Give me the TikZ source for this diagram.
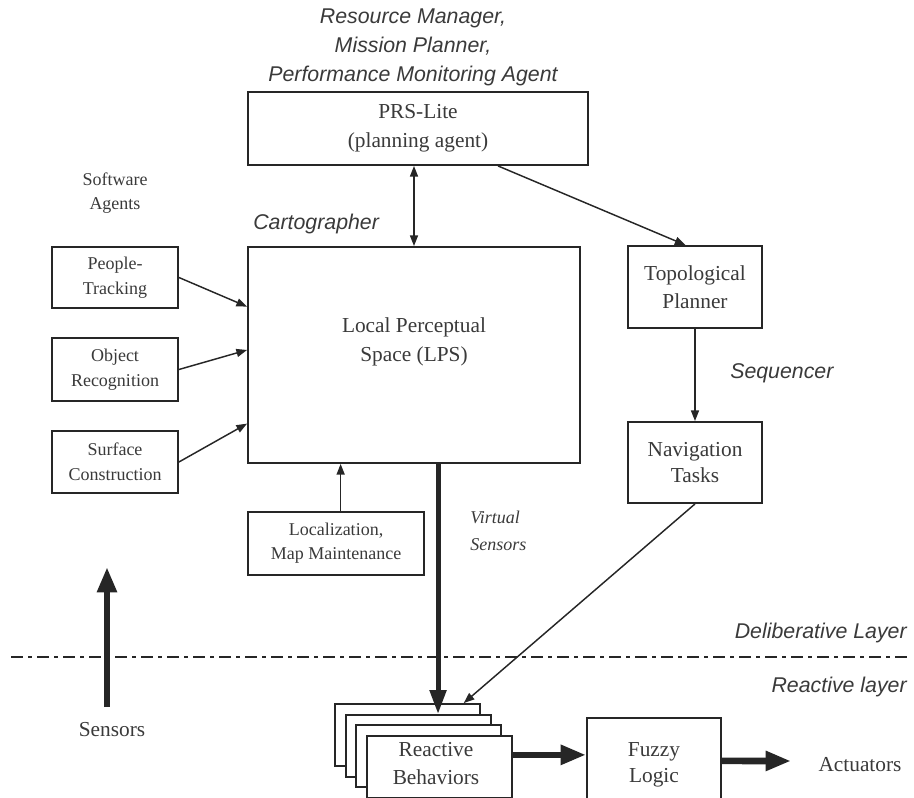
\documentclass[tikz,border=0pt]{standalone}
\usepackage{fontspec}
\setmainfont{Liberation Serif}
\setsansfont{Liberation Sans}
\usetikzlibrary{arrows.meta,calc}
\definecolor{ink}{HTML}{262626}
\definecolor{txt}{HTML}{3A3A3A}
\begin{document}
\begin{tikzpicture}[x=0.75pt,y=-0.75pt,
  every node/.style={text=txt},
  bigbox/.style={draw=ink,line width=1.4pt,fill=white,inner sep=0pt,align=center,font=\fontsize{16}{22}\selectfont},
  smallbox/.style={draw=ink,line width=1.4pt,fill=white,inner sep=0pt,align=center,font=\fontsize{13.5}{18.75}\selectfont},
  lbl/.style={font=\fontsize{16}{21.75}\selectfont\sffamily\itshape,align=center,inner sep=0pt},
  plain/.style={font=\fontsize{16}{22}\selectfont,align=center,inner sep=0pt},
  thin/.style={draw=ink,line width=1.1pt,-{Triangle[length=8pt,width=6pt]}},
  thick/.style={draw=ink,line width=5pt,-{Triangle[length=19pt,width=14pt]}}
]
\useasboundingbox (0,0) rectangle (914,798);

% labels
\node[lbl] (roles) at (413,47.5) {Resource Manager,\\Mission Planner,\\Performance Monitoring Agent};
\node[plain,font=\fontsize{13.5}{18}\selectfont] (swag) at (115,193) {Software\\Agents};
\node[lbl,anchor=west] (carto) at (253,224) {Cartographer};
\node[lbl,anchor=west] (seq) at (730,373) {Sequencer};
\node[align=left,anchor=west,inner sep=0pt,font=\fontsize{13.5}{20.5}\selectfont\itshape] (vs) at (470,531) {Virtual\\Sensors};
\node[lbl,anchor=east] (delib) at (907,633) {Deliberative Layer};
\node[lbl,anchor=east] (react) at (907,687) {Reactive layer};
\node[plain] (sens) at (112,730) {Sensors};
\node[plain] (act) at (860,765) {Actuators};

% boxes
\node[bigbox,minimum width=255pt,minimum height=54.75pt] (prs) at (418,128.5) {PRS-Lite\\(planning agent)};
\node[bigbox,minimum width=249pt,minimum height=162pt] (lps) at (414,355) {};
\node[plain] (lpstext) at (414,342) {Local Perceptual\\Space (LPS)};
\node[smallbox,minimum width=94.5pt,minimum height=45.75pt] (pt) at (115,277.5) {People-\\Tracking};
\node[smallbox,minimum width=94.5pt,minimum height=47.25pt] (ori) at (115,369.5) {Object\\Recognition};
\node[smallbox,minimum width=94.5pt,minimum height=46.5pt] (sc) at (115,462) {Surface\\Construction};
\node[smallbox,minimum width=132pt,minimum height=47.25pt,font=\fontsize{13.5}{18}\selectfont] (loc) at (336,543.5) {Localization,\\Map Maintenance};
\node[bigbox,minimum width=100.5pt,minimum height=61.5pt,font=\fontsize{16}{21}\selectfont] (topo) at (695,287) {Topological\\Planner};
\node[bigbox,minimum width=100.5pt,minimum height=60.75pt,font=\fontsize{16}{19.5}\selectfont] (nav) at (695,462.5) {Navigation\\Tasks};
\node[bigbox,minimum width=108.75pt,minimum height=46.5pt] (rb1) at (407.5,735) {};
\node[bigbox,minimum width=108.75pt,minimum height=46.5pt] (rb2) at (418.5,746) {};
\node[bigbox,minimum width=108.75pt,minimum height=46.5pt] (rb3) at (428.5,756) {};
\node[bigbox,minimum width=108.75pt,minimum height=46.5pt,font=\fontsize{16}{21}\selectfont] (rb4) at (439.5,767) {};
\node[plain,font=\fontsize{16}{21}\selectfont] (rbtext) at (436,764) {Reactive\\Behaviors};
\node[bigbox,minimum width=100.5pt,minimum height=70.5pt,font=\fontsize{16}{19.5}\selectfont] (fuzzy) at (654,765) {Fuzzy\\Logic};

% dash-dot layer separator
\coordinate (sepL) at (11,657);
\coordinate (sepR) at (910,657);
\draw[draw=ink,line width=1.8pt,dash pattern=on 9pt off 4pt on 2.5pt off 4pt] (sepL) -- (sepR);

% connectors
\draw[draw=ink,line width=1.1pt,{Triangle[length=8pt,width=6pt]}-{Triangle[length=8pt,width=6pt]}] (prs.south -| lps.north) -- (lps.north);
\coordinate (prsout) at ($(prs.south west)!0.734!(prs.south east)$);
\coordinate (topoin) at ($(topo.north west)!0.43!(topo.north east)$);
\draw[thin] (prsout) -- (topoin);
\draw[thin] (topo.south) -- (nav.north);
\coordinate (lin1) at ($(lps.north west)!0.278!(lps.south west)$);
\coordinate (lin2) at ($(lps.north west)!0.477!(lps.south west)$);
\coordinate (lin3) at ($(lps.north west)!0.815!(lps.south west)$);
\draw[thin] (pt.east) -- (lin1);
\draw[thin] (ori.east) -- (lin2);
\draw[thin] (sc.east) -- (lin3);
\coordinate (locout) at ($(loc.north west)!0.526!(loc.north east)$);
\draw[thin] (locout) -- (locout |- lps.south);
\coordinate (lpsout) at ($(lps.south west)!0.572!(lps.south east)$);
\draw[draw=ink,line width=3.75pt,-{Triangle[length=18pt,width=12pt]}] (lpsout) -- (lpsout |- rb2.north);
\coordinate (rbin) at ($(rb1.north west)!0.883!(rb1.north east)$);
\draw[thin] (nav.south) -- (rbin);
\coordinate (rbout) at ($(rb4.north east)!0.31!(rb4.south east)$);
\draw[thick] (rbout) -- (rbout -| fuzzy.west);
\coordinate (fzout) at ($(fuzzy.north east)!0.457!(fuzzy.south east)$);
\coordinate (actend) at (791,761);
\draw[thick] (fzout) -- (actend);
\coordinate (sensbot) at (107,707);
\coordinate (senstop) at (107,567);
\draw[thick] (sensbot) -- (senstop);
\end{tikzpicture}
\end{document}
